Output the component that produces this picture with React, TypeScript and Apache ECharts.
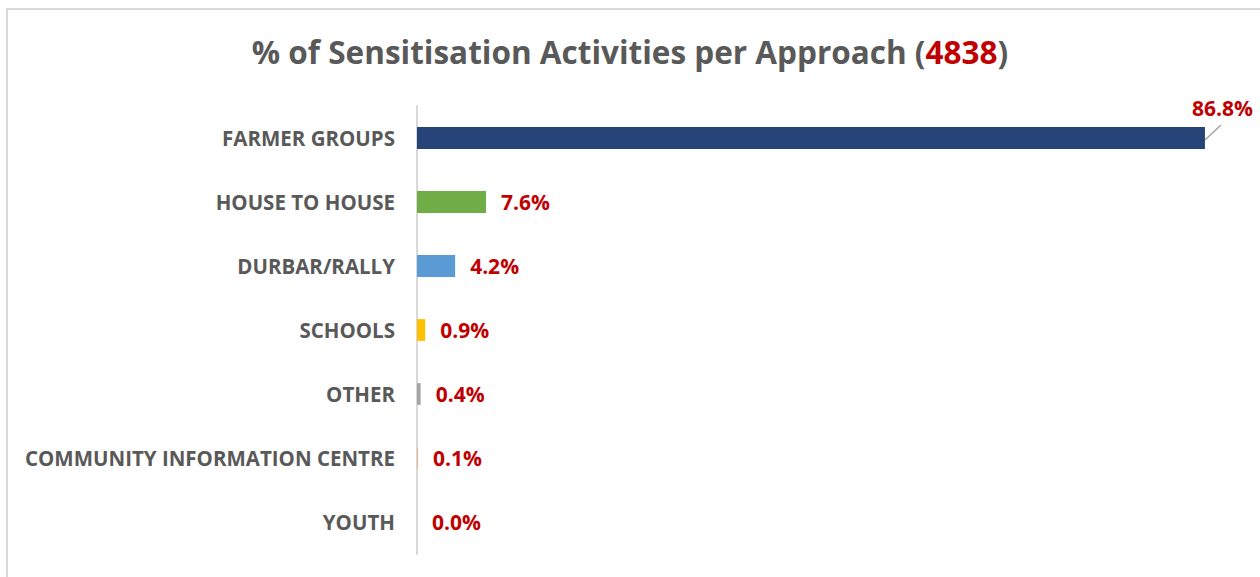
import React, { useEffect, useRef } from "react";
import * as echarts from "echarts";

const categories = [
  "FARMER GROUPS",
  "HOUSE TO HOUSE",
  "DURBAR/RALLY",
  "SCHOOLS",
  "OTHER",
  "COMMUNITY INFORMATION CENTRE",
  "YOUTH",
];
const values = [86.8, 7.6, 4.2, 0.9, 0.4, 0.1, 0.0];
const colors = ["#264478", "#70AD47", "#5B9BD5", "#FFC000", "#A5A5A5", "#F4B183", "#9E480E"];
const titleMain = "% of Sensitisation Activities per Approach (";
const titleTotal = "4838";
const titleEnd = ")";

const FONT = "'Open Sans', sans-serif";

export default function App() {
  const ref = useRef<HTMLDivElement>(null);
  useEffect(() => {
    if (!ref.current) return;
    const chart = echarts.init(ref.current, undefined, { renderer: "svg" });
    const border = {
      type: "rect",
      shape: { x: 7, y: 9, width: 1400, height: 700 },
      style: { fill: "none", stroke: "#D9D9D9", lineWidth: 2 },
      silent: true,
    };
    chart.setOption({
      animation: false,
      backgroundColor: "#ffffff",
      title: {
        text: `{a|${titleMain}}{b|${titleTotal}}{a|${titleEnd}}`,
        left: "center",
        top: 30,
        textStyle: {
          rich: {
            a: { fontFamily: FONT, fontSize: 31.5, fontWeight: "bold", color: "#595959" },
            b: { fontFamily: FONT, fontSize: 31.5, fontWeight: "bold", color: "#C00000" },
          },
        },
      },
      graphic: [border],
      grid: { left: 417, right: 26, top: 106, bottom: 23, containLabel: false },
      xAxis: {
        type: "value",
        min: 0,
        max: 90,
        show: false,
      },
      yAxis: {
        type: "category",
        inverse: true,
        data: categories,
        axisTick: { show: false },
        axisLine: { show: true, lineStyle: { color: "#D9D9D9", width: 2 } },
        axisLabel: {
          margin: 22,
          fontFamily: FONT,
          fontSize: 20.5,
          fontWeight: "bold",
          color: "#595959",
        },
      },
      series: [
        {
          type: "bar",
          barWidth: "34%",
          data: values.map((v, i) => ({ value: v, itemStyle: { color: colors[i] } })),
          label: {
            show: true,
            position: "right",
            distance: 15,
            fontFamily: FONT,
            fontSize: 21,
            fontWeight: "bold",
            color: "#C00000",
            formatter: (p: any) => Number(p.value).toFixed(1) + "%",
          },
          labelLayout: (params: any) => {
            if (params.dataIndex === 0) {
              return { dx: -28, dy: -30 };
            }
            return {};
          },
        },
      ],
    });
    const end = chart.convertToPixel({ seriesIndex: 0 }, [values[0], 0]) as number[];
    if (end && isFinite(end[0])) {
      chart.setOption({
        graphic: [
          border,
          {
            type: "line",
            shape: { x1: end[0], y1: end[1] + 2, x2: end[0] + 16, y2: end[1] - 13 },
            style: { stroke: "#A5A5A5", lineWidth: 1.5 },
            silent: true,
          },
        ],
      });
    }
    return () => chart.dispose();
  }, []);
  return (
    <div
      ref={ref}
      style={{ position: "absolute", left: 0, top: 0, width: 1260, height: 577 }}
    />
  );
}
